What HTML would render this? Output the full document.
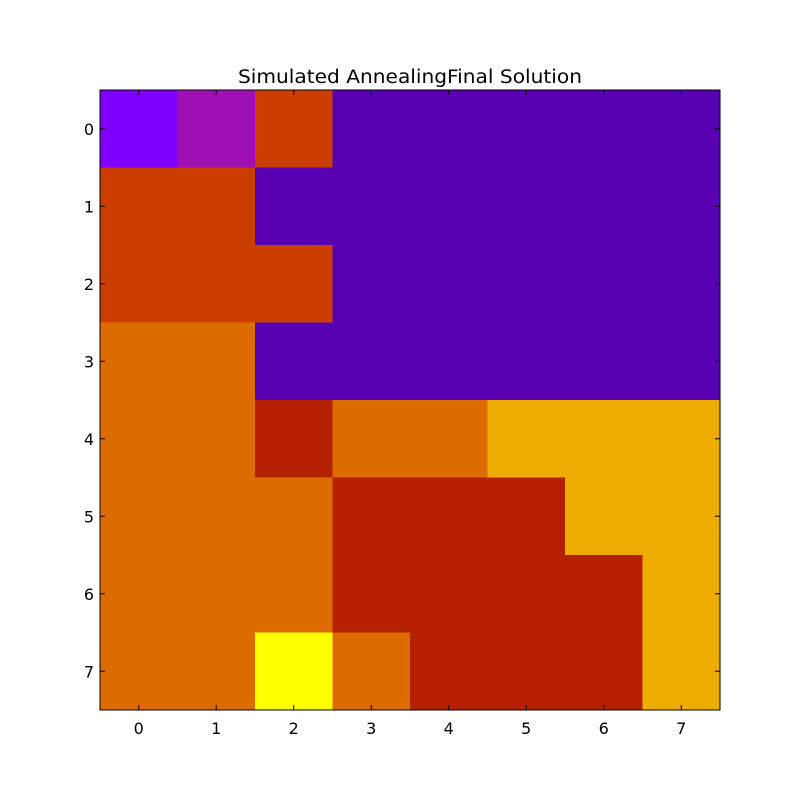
<!DOCTYPE html>
<html><head><meta charset="utf-8"><style>body{margin:0;background:#fff}</style></head>
<body>
<svg id="c" width="800" height="800" xmlns="http://www.w3.org/2000/svg" font-family="DejaVu Sans, Liberation Sans, sans-serif">
<text x="410" y="83" text-anchor="middle" font-size="18.5" textLength="344" lengthAdjust="spacingAndGlyphs">Simulated AnnealingFinal Solution</text>
<g id="cells"></g><g id="axes"></g>
</svg>
<script>
const xLabels=["0","1","2","3","4","5","6","7"];
const yLabels=["0","1","2","3","4","5","6","7"];
const grid=[
[7,6,3,1,1,1,1,1],
[3,3,1,1,1,1,1,1],
[3,3,3,1,1,1,1,1],
[4,4,1,1,1,1,1,1],
[4,4,2,4,4,5,5,5],
[4,4,4,2,2,2,5,5],
[4,4,4,2,2,2,2,5],
[4,4,0,4,2,2,2,5]];
const palette={0:"#ffff00",1:"#5900b3",2:"#b52000",3:"#cc3d00",4:"#dd6c00",5:"#eeab00",6:"#9e10b4",7:"#8000ff"};
const L=100,T=90,W=620,H=620,n=8;
const sx=i=>L+i*W/n, sy=j=>T+j*H/n;
const ns="http://www.w3.org/2000/svg";
const cells=document.getElementById('cells'),axes=document.getElementById('axes');
function mk(tag,attrs,parent){const e=document.createElementNS(ns,tag);for(const k in attrs)e.setAttribute(k,attrs[k]);parent.appendChild(e);return e;}
grid.forEach((row,j)=>row.forEach((v,i)=>{
 const r=mk('rect',{x:sx(i),y:sy(j),width:W/n+0.5,height:H/n+0.5,fill:palette[v]},cells);
 
 
}));
const f=mk('rect',{x:L,y:T,width:W,height:H,fill:'none',stroke:'#000','stroke-width':1},axes);


xLabels.forEach((t,i)=>{
 const x=sx(i+0.5);
 mk('line',{x1:x,x2:x,y1:T+H,y2:T+H-5,stroke:'#000'},axes);
 mk('line',{x1:x,x2:x,y1:T,y2:T+5,stroke:'#000'},axes);
 const tx=mk('text',{x:x,y:T+H+24,'text-anchor':'middle','font-size':16},axes);tx.textContent=t;
 
 
});
yLabels.forEach((t,j)=>{
 const y=sy(j+0.5);
 mk('line',{x1:L,x2:L+5,y1:y,y2:y,stroke:'#000'},axes);
 mk('line',{x1:L+W,x2:L+W-5,y1:y,y2:y,stroke:'#000'},axes);
 const tx=mk('text',{x:L-6,y:y+6,'text-anchor':'end','font-size':16},axes);tx.textContent=t;
 
 
});
</script>
</body></html>
